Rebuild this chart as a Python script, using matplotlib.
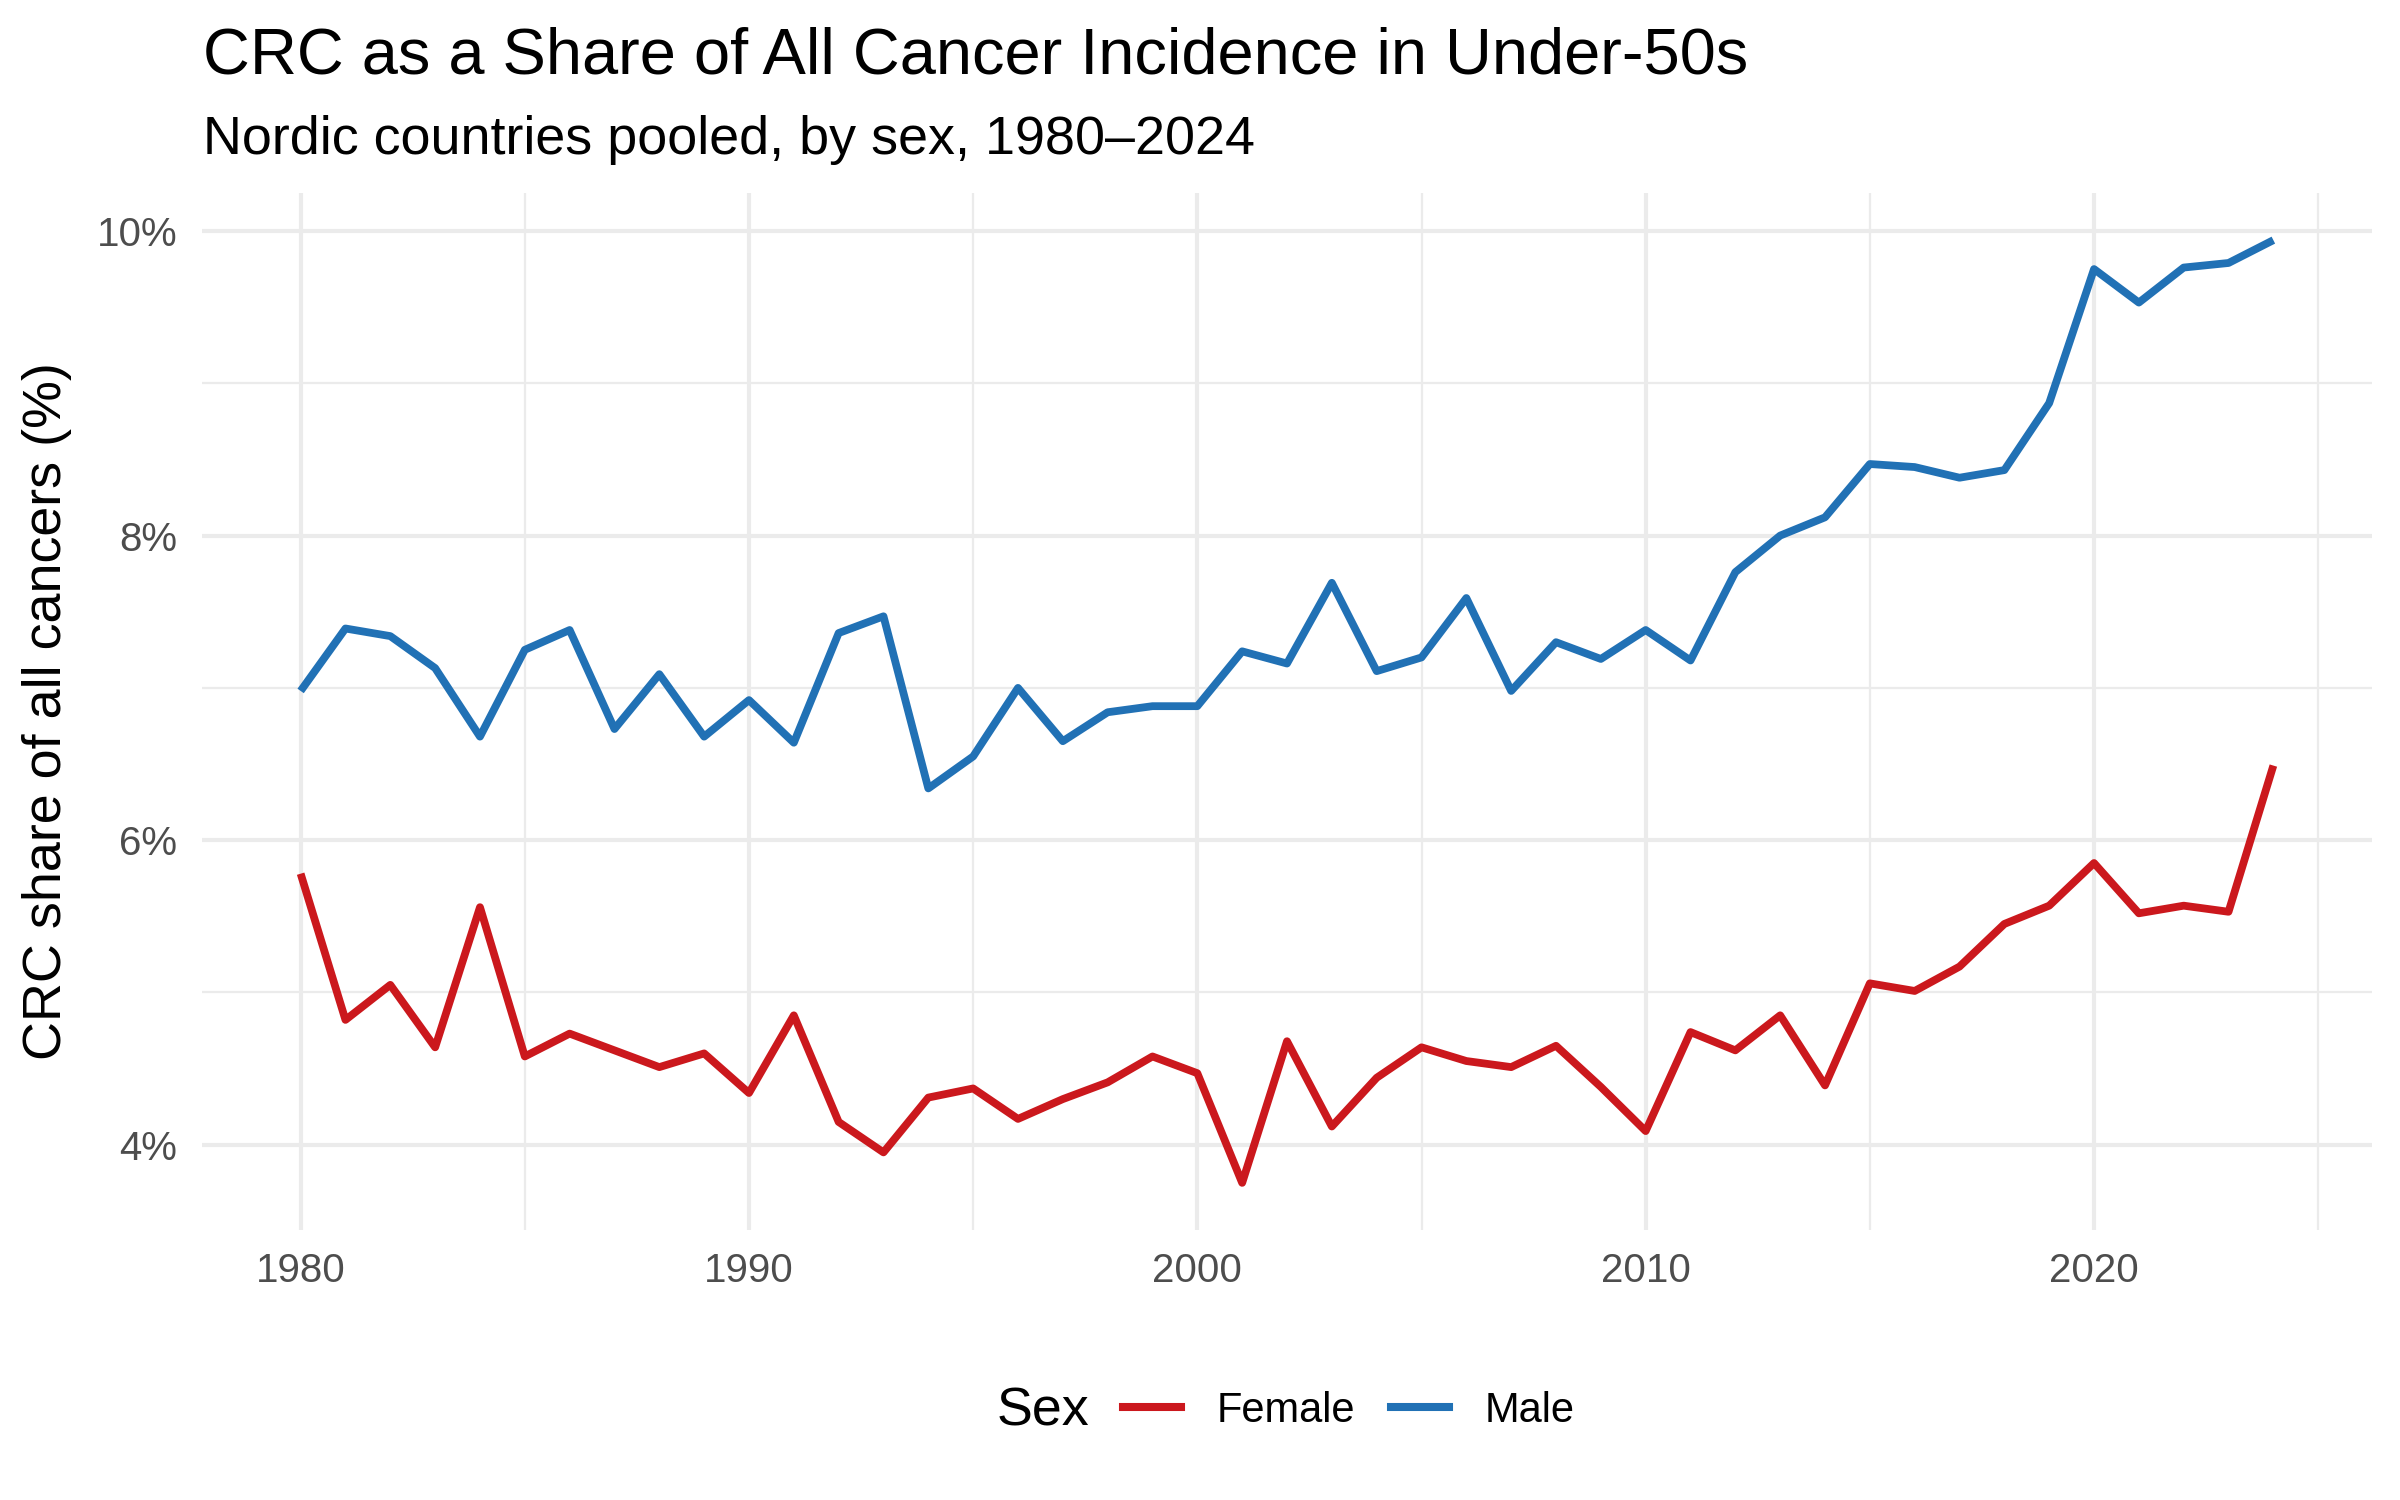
import matplotlib
matplotlib.use("Agg")
import matplotlib.pyplot as plt
from matplotlib.ticker import FixedLocator, FuncFormatter
from matplotlib.lines import Line2D

# ---- data (CRC share of all cancers, %, under-50s) ----
years = list(range(1980, 2025))
female_pct = [5.78, 4.82, 5.05, 4.64, 5.56, 4.58, 4.73, 4.62, 4.51, 4.60,
              4.34, 4.85, 4.15, 3.95, 4.31, 4.37, 4.17, 4.30, 4.41, 4.58,
              4.47, 3.75, 4.68, 4.12, 4.44, 4.64, 4.55, 4.51, 4.65, 4.38,
              4.09, 4.74, 4.62, 4.85, 4.39, 5.06, 5.01, 5.17, 5.45, 5.57,
              5.85, 5.52, 5.57, 5.53, 6.49]
male_pct = [6.98, 7.39, 7.34, 7.13, 6.68, 7.25, 7.38, 6.73, 7.09, 6.68,
            6.92, 6.64, 7.36, 7.47, 6.34, 6.55, 7.00, 6.65, 6.84, 6.88,
            6.88, 7.24, 7.16, 7.69, 7.11, 7.20, 7.59, 6.98, 7.30, 7.19,
            7.38, 7.18, 7.76, 8.00, 8.12, 8.47, 8.45, 8.38, 8.43, 8.87,
            9.75, 9.53, 9.76, 9.79, 9.94]
series_names = ["Female", "Male"]
series_colors = ["#CB181D", "#2171B5"]

x_major = [1980, 1990, 2000, 2010, 2020]
x_minor = [1985, 1995, 2005, 2015, 2025]
y_major = [4, 6, 8, 10]
y_minor = [5, 7, 9]

TITLE = "CRC as a Share of All Cancer Incidence in Under-50s"
SUBTITLE = "Nordic countries pooled, by sex, 1980\u20132024"
YLABEL = "CRC share of all cancers (%)"

plt.rcParams["font.family"] = ["Liberation Sans", "DejaVu Sans"]

W, H = 2400, 1500
fig = plt.figure(figsize=(12, 7.5), dpi=200)
fig.patch.set_facecolor("white")

# panel in pixel coords -> figure fractions
left, right, top, bottom = 202, 2372, 193, 1230
ax = fig.add_axes([left / W, 1 - bottom / H, (right - left) / W, (bottom - top) / H])
ax.set_facecolor("white")

for vals, name, col in zip([female_pct, male_pct], series_names, series_colors):
    ax.plot(years, vals, color=col, lw=2.8, label=name,
            solid_joinstyle="round", solid_capstyle="butt", zorder=3)

ax.margins(x=0.05, y=0.05)

ax.xaxis.set_major_locator(FixedLocator(x_major))
ax.xaxis.set_minor_locator(FixedLocator(x_minor))
ax.yaxis.set_major_locator(FixedLocator(y_major))
ax.yaxis.set_minor_locator(FixedLocator(y_minor))
ax.yaxis.set_major_formatter(FuncFormatter(lambda v, p: f"{v:.0f}%"))

grid_col = "#EBEBEB"
ax.grid(which="major", color=grid_col, lw=1.5, zorder=0)
ax.grid(which="minor", color=grid_col, lw=0.8, zorder=0)
ax.set_axisbelow(True)

for s in ax.spines.values():
    s.set_visible(False)
ax.tick_params(which="both", length=0)
ax.tick_params(axis="x", labelsize=14.5, labelcolor="#4D4D4D", pad=8)
ax.tick_params(axis="y", labelsize=14.5, labelcolor="#4D4D4D", pad=9)

# titles
fig.text(203 / W, 1 - 74 / H, TITLE, fontsize=23.4, color="black",
         ha="left", va="baseline")
fig.text(203 / W, 1 - 154 / H, SUBTITLE, fontsize=19.4, color="black",
         ha="left", va="baseline")
fig.text(47 / W, 1 - ((top + bottom) / 2) / H, YLABEL, fontsize=19.4,
         rotation=90, ha="center", va="center", color="black")

# legend at the bottom, title on the left
leg_y = 1 - 1411 / H
fig.text(997 / W, leg_y, "Sex", fontsize=19.4, ha="left", va="center")
handles = [Line2D([0], [0], color=c, lw=2.9) for c in series_colors]
fig.legend(handles, series_names, loc="center left",
           bbox_to_anchor=(1123 / W, leg_y), ncol=2, frameon=False,
           fontsize=15, handlelength=1.39, handletextpad=0.86,
           columnspacing=0.86, borderpad=0, borderaxespad=0)

fig.savefig("out.png", dpi=200, facecolor="white")
